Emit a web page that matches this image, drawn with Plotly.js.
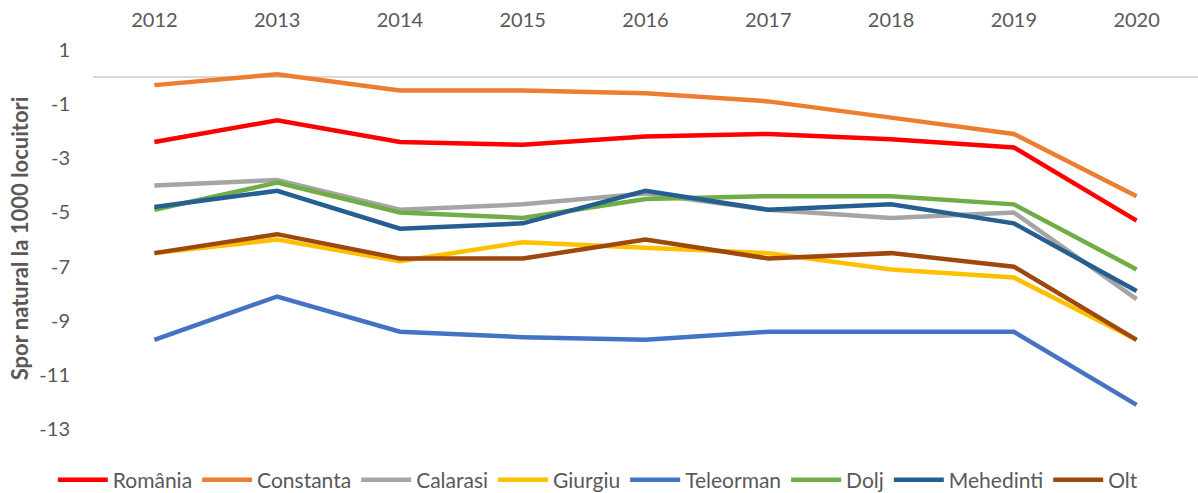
<!DOCTYPE html>
<html>
<head>
<meta charset="utf-8">
<script src="https://cdn.plot.ly/plotly-3.0.1.min.js"></script>
<style>html,body{margin:0;padding:0;background:#fff;}#chart{width:1198px;height:493px;}</style>
</head>
<body>
<div id="chart"></div>
<script>
const years = ['2012','2013','2014','2015','2016','2017','2018','2019','2020'];
const romania   = [-2.4, -1.6, -2.4, -2.5, -2.2, -2.1, -2.3, -2.6, -5.3];
const constanta = [-0.3, 0.1, -0.5, -0.5, -0.6, -0.9, -1.5, -2.1, -4.4];
const calarasi  = [-4.0, -3.8, -4.9, -4.7, -4.3, -4.9, -5.2, -5.0, -8.2];
const giurgiu   = [-6.5, -6.0, -6.8, -6.1, -6.3, -6.5, -7.1, -7.4, -9.7];
const teleorman = [-9.7, -8.1, -9.4, -9.6, -9.7, -9.4, -9.4, -9.4, -12.1];
const dolj      = [-4.9, -3.9, -5.0, -5.2, -4.5, -4.4, -4.4, -4.7, -7.1];
const mehedinti = [-4.8, -4.2, -5.6, -5.4, -4.2, -4.9, -4.7, -5.4, -7.9];
const olt       = [-6.5, -5.8, -6.7, -6.7, -6.0, -6.7, -6.5, -7.0, -9.7];
const yTicks = [1, -1, -3, -5, -7, -9, -11, -13];

const series = [
  {name: 'România', y: romania, color: '#FF0000'},
  {name: 'Constanta', y: constanta, color: '#ED7D31'},
  {name: 'Calarasi', y: calarasi, color: '#A5A5A5'},
  {name: 'Giurgiu', y: giurgiu, color: '#FFC000'},
  {name: 'Teleorman', y: teleorman, color: '#4472C4'},
  {name: 'Dolj', y: dolj, color: '#70AD47'},
  {name: 'Mehedinti', y: mehedinti, color: '#255E91'},
  {name: 'Olt', y: olt, color: '#9E480E'}
];

const traces = series.map(s => ({
  type: 'scatter', mode: 'lines', name: s.name, x: years, y: s.y,
  line: {color: s.color, width: 4.5}
}));

const font = {family: 'Lato, "Open Sans", sans-serif', color: '#595959'};

const layout = {
  width: 1198, height: 493,
  margin: {l: 93, r: 0, t: 32, b: 48},
  paper_bgcolor: '#ffffff', plot_bgcolor: '#ffffff',
  font: font,
  showlegend: true,
  legend: {
    orientation: 'h', xref: 'container', yref: 'container',
    x: 0.499, xanchor: 'center', y: 0.026, yanchor: 'middle',
    font: {family: font.family, color: '#595959', size: 21},
    itemwidth: 50, tracegroupgap: 0
  },
  xaxis: {
    type: 'category', side: 'top', range: [-0.5, 8.5],
    showgrid: false, zeroline: false, showline: false, ticks: '',
    tickfont: {family: font.family, color: '#595959', size: 20}
  },
  yaxis: {
    range: [-13.58, 1.66], tickvals: yTicks, ticktext: yTicks.map(String),
    showgrid: false, showline: false, ticks: '',
    zeroline: true, zerolinecolor: '#D9D9D9', zerolinewidth: 1.5,
    ticklabelstandoff: 22,
    tickfont: {family: font.family, color: '#595959', size: 20},
    title: {text: 'Spor natural la 1000 locuitori', standoff: 4,
            font: {family: font.family, color: '#595959', size: 22, weight: 'bold'}}
  }
};

Plotly.newPlot('chart', traces, layout, {displayModeBar: false, staticPlot: true});
</script>
</body>
</html>
